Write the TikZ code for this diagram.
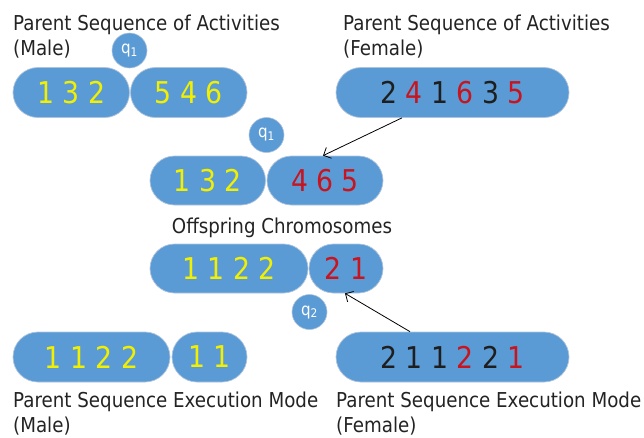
\documentclass[tikz,border=0pt]{standalone}
\usepackage{fontspec}
\setmainfont{DejaVu Sans}[FakeStretch=0.89]
\usetikzlibrary{shapes.misc,arrows.meta}

\definecolor{pillblue}{RGB}{91,155,213}
\definecolor{pilledge}{RGB}{175,195,220}
\definecolor{geneyellow}{RGB}{242,240,0}
\definecolor{genered}{RGB}{200,20,30}
\definecolor{geneblack}{RGB}{30,30,30}
\definecolor{labelgray}{RGB}{35,35,35}

\tikzset{
  pill/.style={rounded rectangle, fill=pillblue, draw=pilledge, line width=0.7pt,
    inner sep=0pt, minimum height=50pt, font=\fontsize{30}{30}\selectfont},
  cutpoint/.style={circle, fill=pillblue, draw=pilledge, line width=0.6pt,
    inner sep=0pt, minimum size=35pt, text=white, font=\fontsize{17}{17}\selectfont},
  caption/.style={anchor=base west, inner sep=0pt, align=left, text=labelgray,
    font=\fontsize{20.5}{25}\selectfont},
  link/.style={line width=0.8pt, -{Straight Barb[length=6pt,width=12pt]}}
}
\newcommand{\gy}[1]{\textcolor{geneyellow}{#1}}
\newcommand{\gr}[1]{\textcolor{genered}{#1}}
\newcommand{\gk}[1]{\textcolor{geneblack}{#1}}

\begin{document}
\begin{tikzpicture}[x=1pt,y=-1pt]
  \useasboundingbox (0,0) rectangle (644,437);

  % captions (anchored on the baseline of their last line)
  \node[caption] (capMA) at (13,55) {Parent Sequence of Activities\\(Male)};
  \node[caption] (capFA) at (343,55) {Parent Sequence of Activities\\(Female)};
  \node[caption, anchor=base] (capOff) at (282,233) {Offspring Chromosomes};
  \node[caption] (capMM) at (13,432) {Parent Sequence Execution Mode\\(Male)};
  \node[caption] (capFM) at (336,432) {Parent Sequence Execution Mode\\(Female)};

  % parent activity sequences
  \node[pill, minimum width=116.5pt] (ma1) at (71.25,92.5) {\gy{1 3 2}};
  \node[pill, minimum width=116.5pt] (ma2) at (188.75,92.5) {\gy{5 4 6}};
  \node[cutpoint] (q1a) at (129.5,50.5) {q\textsubscript{1}};
  \node[pill, minimum width=233pt] (fa) at (452.5,92.5)
    {\gk{2} \gr{4} \gk{1} \gr{6} \gk{3} \gr{5}};

  % offspring activity sequence
  \node[pill, minimum width=115.5pt, minimum height=49pt] (oa1) at (207.75,180.5) {\gy{1 3 2}};
  \node[pill, minimum width=116pt, minimum height=49pt] (oa2) at (325,180.5) {\gr{4 6 5}};
  \node[cutpoint] (q1b) at (266.5,135) {q\textsubscript{1}};

  % offspring execution modes
  \node[pill, minimum width=158pt, minimum height=49pt] (om1) at (229,268.5) {\gy{1 1 2 2}};
  \node[pill, minimum width=74pt, minimum height=49pt] (om2) at (346,268.5) {\gr{2 1}};
  \node[cutpoint] (q2) at (309.5,312) {q\textsubscript{2}};

  % parent execution modes
  \node[pill, minimum width=157pt] (mm1) at (91.5,357) {\gy{1 1 2 2}};
  \node[pill, minimum width=75pt] (mm2) at (209.5,357) {\gy{1 1}};
  \node[pill, minimum width=233pt] (fm) at (452.5,357)
    {\gk{2 1 1} \gr{2} \gk{2} \gr{1}};

  % inheritance from the female parent
  \draw[link] ([xshift=-50.5pt]fa.south) -- ([xshift=-2pt]oa2.north);
  \draw[link] ([xshift=-42.5pt]fm.north) -- ([xshift=-1pt]om2.south);
\end{tikzpicture}
\end{document}
